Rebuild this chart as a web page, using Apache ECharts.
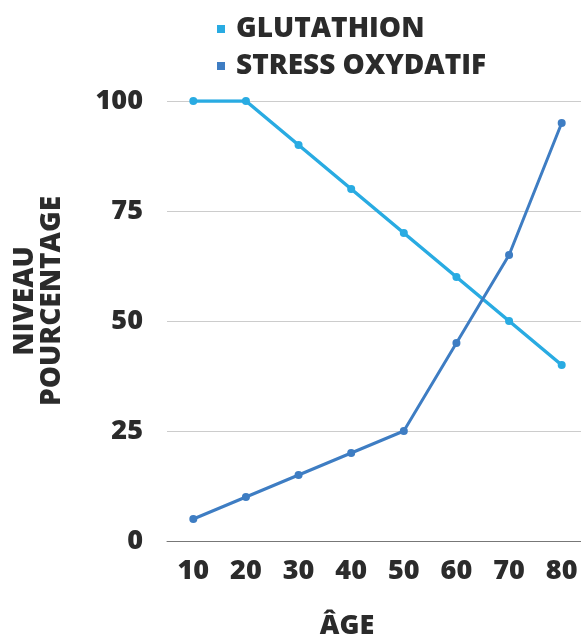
<!DOCTYPE html>
<html><head><meta charset="utf-8">
<script src="https://cdn.jsdelivr.net/npm/echarts@6/dist/echarts.min.js"></script>
<style>html,body{margin:0;padding:0;background:#fff}#c{width:581px;height:639px}</style>
</head><body><div id="c"></div>
<script>
var ages = ['10','20','30','40','50','60','70','80'];
var glutathion = [100,100,90,80,70,60,50,40];
var stress = [5,10,15,20,25,45,65,95];
var yTicks = [0,25,50,75,100];
var FONT = 'Open Sans';
var chart = echarts.init(document.getElementById('c'));
chart.setOption({
  animation:false,
  color:['#29ABE2','#3E7DC3'],
  legend:{orient:'vertical',left:212,top:10,itemWidth:8,itemHeight:8,itemGap:9,icon:'rect',
    textStyle:{fontFamily:FONT,fontWeight:800,fontSize:28,color:'#2b2b2b',padding:[0,0,0,6]},
    data:['GLUTATHION','STRESS OXYDATIF']},
  title:{text:'ÂGE',left:342,top:608,textAlign:'center',textStyle:{fontFamily:FONT,fontWeight:800,fontSize:27,color:'#2b2b2b'}},
  grid:{left:167,width:421,top:101,bottom:98,containLabel:false,outerBoundsMode:'none'},
  xAxis:{type:'category',data:ages,boundaryGap:true,
    axisLine:{lineStyle:{color:'#777',width:1}},axisTick:{show:false},
    axisLabel:{margin:17,fontFamily:FONT,fontWeight:800,fontSize:27,color:'#2b2b2b'}},
  yAxis:{type:'value',min:0,max:100,interval:25,
    name:'NIVEAU\nPOURCENTAGE',nameLocation:'middle',nameGap:101,nameRotate:90,
    nameTextStyle:{fontFamily:FONT,fontWeight:800,fontSize:28,color:'#2b2b2b',lineHeight:27,padding:[0,0,0,40]},
    axisLine:{show:false},axisTick:{show:false},
    splitLine:{lineStyle:{color:'#cccccc',width:1}},
    axisLabel:{margin:24,fontFamily:FONT,fontWeight:800,fontSize:27,color:'#2b2b2b',
      formatter:function(v){return yTicks.indexOf(v)>=0?String(v):'';}}},
  series:[
    {name:'GLUTATHION',type:'line',data:glutathion,symbol:'circle',symbolSize:8,lineStyle:{width:3.5}},
    {name:'STRESS OXYDATIF',type:'line',data:stress,symbol:'circle',symbolSize:8,lineStyle:{width:3}}
  ]
});
</script></body></html>
